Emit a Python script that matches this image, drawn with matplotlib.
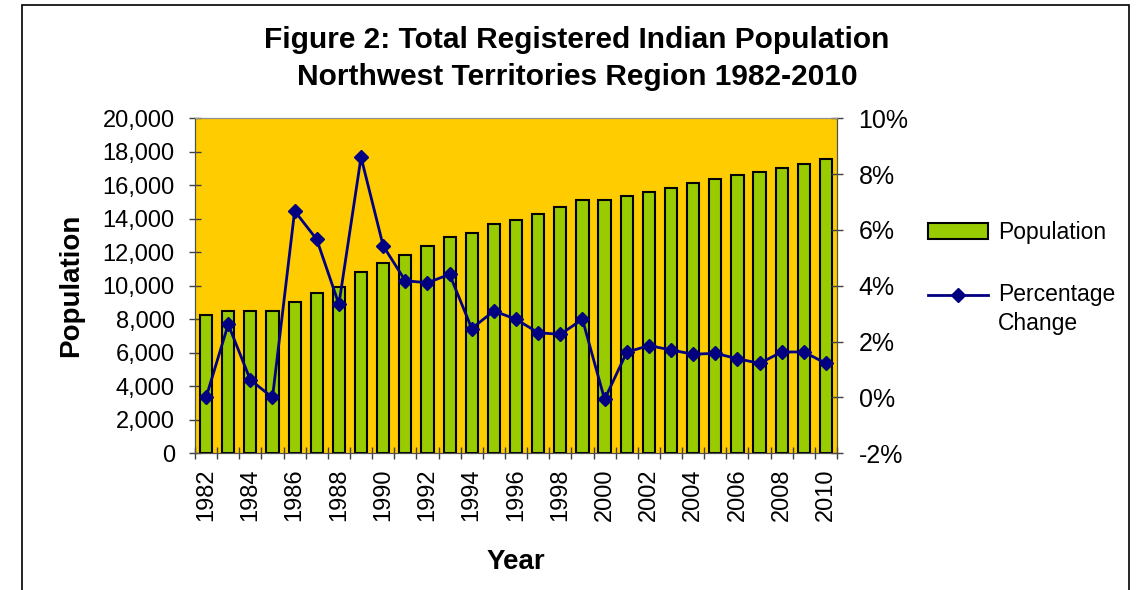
import numpy as np
import matplotlib
matplotlib.use("Agg")
import matplotlib.pyplot as plt
from matplotlib.patches import Rectangle
from matplotlib.ticker import FuncFormatter, FixedLocator

plt.rcParams['font.family'] = ['Liberation Sans', 'DejaVu Sans']

# data
years = list(range(1982, 2011))
population = [8240, 8500, 8500, 8500, 9010, 9550, 9910, 10810, 11340, 11860,
              12380, 12910, 13170, 13690, 13940, 14300, 14700, 15100, 15100, 15340,
              15600, 15860, 16120, 16380, 16630, 16780, 17020, 17290, 17550]
pct_change = [0.0, 2.62, 0.63, 0.0, 6.68, 5.66, 3.34, 8.61, 5.43, 4.18,
              4.11, 4.41, 2.47, 3.10, 2.80, 2.32, 2.26, 2.80, -0.07, 1.62,
              1.86, 1.70, 1.55, 1.58, 1.39, 1.22, 1.63, 1.63, 1.22]

fig = plt.figure(figsize=(11.39, 5.90), dpi=100)
ax = fig.add_axes([0.1712, 0.2317, 0.5637, 0.5678])
ax.set_facecolor('#FFCC00')

x = np.arange(len(years))
ax.bar(x, population, width=0.55, color='#99CC00', edgecolor='black', linewidth=1.5,
       label='Population', zorder=2)
ax.set_xlim(-0.5, len(years) - 0.5)
ax.set_ylim(0, 20000)
ax.set_yticks(np.arange(0, 20001, 2000))
ax.yaxis.set_major_formatter(FuncFormatter(lambda v, p: f'{int(v):,}'))

# year labels every other year, tick marks on category boundaries
ax.set_xticks(x[::2])
ax.set_xticklabels([str(y) for y in years[::2]], rotation=90)
ax.xaxis.set_minor_locator(FixedLocator(np.arange(-0.5, len(years), 1.0)))
ax.tick_params(axis='x', which='major', length=0, pad=11, labelsize=17)
ax.tick_params(axis='x', which='minor', direction='inout', length=9, width=1, color='#404040')
ax.tick_params(axis='y', direction='inout', length=9, width=1, pad=10, labelsize=17, color='#404040')

ax2 = ax.twinx()
ax2.plot(x, pct_change, color='#000080', linewidth=2, marker='D', markersize=7.5,
         label='Percentage\nChange', zorder=3)
ax2.set_ylim(-2, 10)
ax2.set_yticks(np.arange(-2, 11, 2))
ax2.yaxis.set_major_formatter(FuncFormatter(lambda v, p: f'{int(v)}%'))
ax2.tick_params(axis='y', direction='inout', length=9, width=1, pad=11, labelsize=18, color='#404040')

for a in (ax, ax2):
    for side in ('left', 'bottom', 'right'):
        a.spines[side].set_color('#505050')
    a.spines['top'].set_color('#909090')

ax.set_ylabel('Population', fontsize=20, fontweight='bold')
ax.yaxis.set_label_coords(-0.172, 0.5)
ax.set_xlabel('Year', fontsize=20, fontweight='bold')
ax.xaxis.set_label_coords(0.5, -0.285)

fig.text(0.5066, 1 - 26 / 590, 'Figure 2: Total Registered Indian Population\nNorthwest Territories Region 1982-2010',
         ha='center', va='top', fontsize=21.5, fontweight='bold', linespacing=1.42)

h1, l1 = ax.get_legend_handles_labels()
h2, l2 = ax2.get_legend_handles_labels()
leg = fig.legend(h1 + h2, l1 + l2, loc='upper left', bbox_to_anchor=(928 / 1139, 1 - 221 / 590),
                 frameon=False, fontsize=16.5, handlelength=2.6, handletextpad=0.45,
                 labelspacing=1.7, borderpad=0, borderaxespad=0)
for t in leg.get_texts():
    t.set_linespacing(1.35)
# put the line handle next to the first line of its two-line label
lh = leg.legend_handles[1]
lh.set_ydata(np.asarray(lh.get_ydata()) + 11)

# outer chart frame
fig.patches.append(Rectangle((22 / 1139, -0.1), (1129 - 22) / 1139, 1.1 - 5 / 590,
                             transform=fig.transFigure, fill=False, edgecolor='black',
                             linewidth=1.2))

fig.savefig('out.png', dpi=100)
